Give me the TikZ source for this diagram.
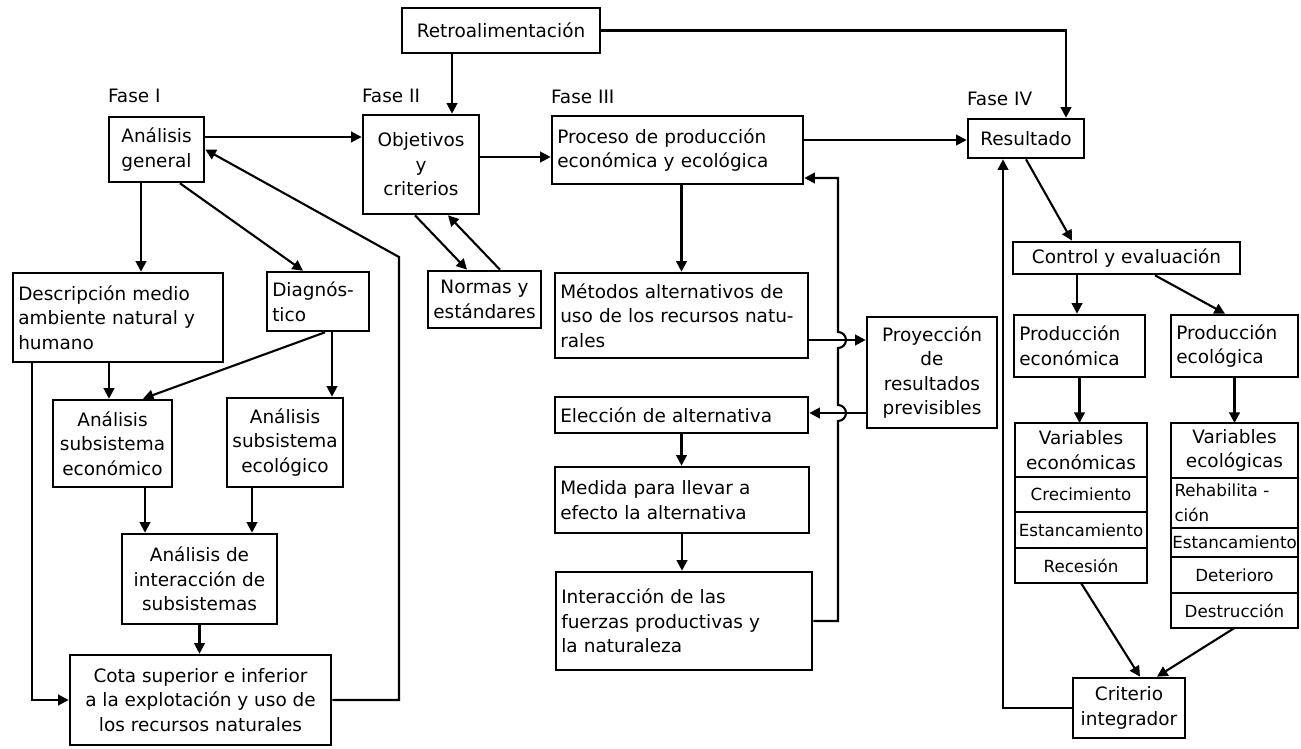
\documentclass[tikz,border=0pt]{standalone}
\usepackage{fontspec}
\setmainfont{DejaVu Sans}
\usetikzlibrary{arrows.meta,positioning}

\begin{document}
\begin{tikzpicture}[x=0.02cm,y=-0.02cm,
    font=\fontsize{10.5}{14}\selectfont,
    caja/.style={draw, line width=1.5pt, inner sep=3pt, align=center},
    cajaizq/.style={caja, align=left, text width=#1},
    fila/.style={draw, line width=1.5pt, inner xsep=0.5pt, inner ysep=1pt, outer sep=0pt, align=center,
      font=\fontsize{9.5}{14}\selectfont},
    cabecera/.style={fila, font=\fontsize{10.5}{14}\selectfont},
    fase/.style={inner sep=0pt},
    flecha/.style={line width=1.2pt, -{Triangle[length=6pt,width=6pt]}}]
\useasboundingbox (0,0) rectangle (1301,748);

\node[caja, minimum width=3.96cm, minimum height=0.9cm] (retro) at (501,30.5) {Retroalimentación};
\node[caja, minimum width=1.9cm, minimum height=1.3cm] (general) at (156.5,149.5) {Análisis\\general};
\node[caja, minimum width=2.32cm, minimum height=1.98cm] (objetivos) at (421,164.5) {Objetivos\\y\\criterios};
\node[cajaizq=4.81cm, minimum height=1.36cm] (proceso) at (677.5,150) {Proceso de producción\\económica y ecológica};
\node[caja, minimum width=2.32cm, minimum height=0.78cm] (resultado) at (1026,138.5) {Resultado};

\node[fase, above right=0.25cm and 0cm of general.north west] (faseI) {Fase I};
\node[fase, above right=0.22cm and 0cm of objetivos.north west] (faseII) {Fase II};
\node[fase, above right=0.22cm and 0cm of proceso.north west] (faseIII) {Fase III};
\node[fase, above right=0.24cm and 0cm of resultado.north west] (faseIV) {Fase IV};

\node[cajaizq=3.99cm, minimum height=1.78cm] (descripcion) at (118,317.5) {Descripción medio\\ambiente natural y\\humano};
\node[cajaizq=1.83cm, minimum height=1.18cm] (diagnostico) at (318,301.5) {Diagnós-\\tico};
\node[caja, minimum width=2.26cm, minimum height=1.14cm] (normas) at (484.5,299.5) {Normas y\\estándares};
\node[caja, minimum width=2.38cm, minimum height=1.74cm] (anecon) at (112.5,443.5) {Análisis\\subsistema\\económico};
\node[caja, minimum width=2.28cm, minimum height=1.78cm] (anecol) at (285,442.5) {Análisis\\subsistema\\ecológico};
\node[caja, minimum width=3.1cm, minimum height=1.8cm] (interac) at (199.5,579) {Análisis de\\interacción de\\subsistemas};
\node[caja, minimum width=5.22cm, minimum height=1.8cm] (cota) at (200.5,700) {Cota superior e inferior\\a la explotación y uso de\\los recursos naturales};

\node[cajaizq=4.85cm, minimum height=1.7cm] (metodos) at (681.5,315.5) {Métodos alternativos de\\uso de los recursos natu-\\rales};
\node[caja, minimum width=2.6cm, minimum height=2.22cm] (proyeccion) at (932,372.5) {Proyección\\de\\resultados\\previsibles};
\node[cajaizq=4.85cm, minimum height=0.72cm] (eleccion) at (681.5,415) {Elección de alternativa};
\node[cajaizq=4.87cm, minimum height=1.32cm] (medida) at (682,500) {Medida para llevar a\\efecto la alternativa};
\node[cajaizq=4.91cm, minimum height=1.96cm] (fuerzas) at (684,621) {Interacción de las\\fuerzas productivas y\\la naturaleza};

\node[caja, minimum width=4.54cm, minimum height=0.64cm] (control) at (1126.5,258) {Control y evaluación};
\node[cajaizq=2.41cm, minimum height=1.24cm] (econom) at (1079.5,346) {Producción\\económica};
\node[cajaizq=2.33cm, minimum height=1.24cm] (ecolog) at (1234.5,346) {Producción\\ecológica};

\node[cabecera, minimum width=2.64cm, minimum height=1.08cm] (varecon) at (1081,450) {Variables\\económicas};
\node[fila, minimum width=2.64cm, minimum height=0.7cm, below=0pt of varecon] (crec) {Crecimiento};
\node[fila, minimum width=2.64cm, minimum height=0.72cm, below=0pt of crec] (estecon) {Estancamiento};
\node[fila, minimum width=2.64cm, minimum height=0.7cm, below=0pt of estecon] (recesion) {Recesión};

\node[cabecera, minimum width=2.54cm, minimum height=1.1cm] (varecol) at (1234.5,450.5) {Variables\\ecológicas};
\node[fila, minimum width=2.54cm, minimum height=1cm, align=left, text width=2.4cm, below=0pt of varecol] (rehab) {Rehabilita -\\ción};
\node[fila, minimum width=2.54cm, minimum height=0.58cm, below=0pt of rehab] (estecol) {Estancamiento};
\node[fila, minimum width=2.54cm, minimum height=0.72cm, below=0pt of estecol] (deterioro) {Deterioro};
\node[fila, minimum width=2.54cm, minimum height=0.7cm, below=0pt of deterioro] (destruccion) {Destrucción};

\node[caja, minimum width=2.24cm, minimum height=1.2cm] (criterio) at (1129,708) {Criterio\\integrador};

\coordinate (codo) at (399,257);
\coordinate (bucle) at (838,178);
\coordinate (salto1) at ([yshift=-0.81cm]proyeccion.west -| bucle);
\coordinate (salto2) at ([yshift=-0.49cm]metodos.east -| bucle);

\draw[flecha] ([xshift=-0.98cm]retro.south) -- ([xshift=-0.98cm]retro.south |- objetivos.north);
\draw[flecha] (retro.east) -| ([xshift=0.8cm]resultado.north);
\draw[flecha] ([yshift=0.25cm]general.east) -- ([yshift=0.25cm]general.east -| objetivos.west);
\draw[flecha] ([yshift=0.15cm]objetivos.east) -- ([yshift=0.15cm]objetivos.east -| proceso.west);
\draw[flecha] ([yshift=0.2cm]proceso.east) -- ([yshift=0.2cm]proceso.east -| resultado.west);
\draw[flecha] (proceso.south -| metodos.north) -- (metodos.north);

\draw[flecha] ([xshift=-0.31cm]general.south) -- ([xshift=-0.31cm]general.south |- descripcion.north);
\draw[flecha] ([xshift=0.47cm]general.south) -- ([xshift=-0.3cm]diagnostico.north);
\draw[flecha] (cota.east) -| (codo) -- (general.east);
\draw[flecha] ([xshift=-0.12cm]objetivos.south) -- ([xshift=-0.35cm]normas.north);
\draw[flecha] ([xshift=0.31cm]normas.north) -- ([xshift=0.54cm]objetivos.south);
\draw[flecha] ([xshift=-0.18cm]descripcion.south) -- ([xshift=-0.18cm]descripcion.south |- anecon.north);
\draw[flecha] ([xshift=0.14cm]diagnostico.south) -- ([xshift=0.61cm]anecon.north);
\draw[flecha] ([xshift=0.28cm]diagnostico.south) -- ([xshift=0.28cm]diagnostico.south |- anecol.north);
\draw[flecha] ([xshift=-1.72cm]descripcion.south) |- (cota.west);
\draw[flecha] ([xshift=0.65cm]anecon.south) -- ([xshift=0.65cm]anecon.south |- interac.north);
\draw[flecha] ([xshift=-0.66cm]anecol.south) -- ([xshift=-0.66cm]anecol.south |- interac.north);
\draw[flecha] (interac.south) -- (interac.south |- cota.north);

\draw[flecha] ([yshift=-0.49cm]metodos.east) -- ([yshift=-0.49cm]metodos.east -| proyeccion.west);
\draw[flecha] ([yshift=-0.81cm]proyeccion.west) -- ([yshift=-0.81cm]proyeccion.west -| eleccion.east);
\draw[flecha] (eleccion.south) -- (eleccion.south |- medida.north);
\draw[flecha] (medida.south) -- (medida.south |- fuerzas.north);
\draw[flecha] (fuerzas.east) -| ([yshift=-0.16cm]salto1) arc[start angle=-90, end angle=90, radius=0.16cm]
    -- ([yshift=-0.16cm]salto2) arc[start angle=-90, end angle=90, radius=0.16cm]
    -- (bucle) -- (bucle -| proceso.east);

\draw[flecha] (resultado.south) -- ([xshift=-1.09cm]control.north);
\draw[flecha] ([xshift=-0.99cm]control.south) -- ([xshift=-0.99cm]control.south |- econom.north);
\draw[flecha] ([xshift=0.57cm]control.south) -- ([xshift=-0.19cm]ecolog.north);
\draw[flecha] (econom.south) -- (econom.south |- varecon.north);
\draw[flecha] (ecolog.south) -- (ecolog.south |- varecol.north);
\draw[flecha] (recesion.south) -- ([xshift=0.22cm]criterio.north);
\draw[flecha] (destruccion.south) -- ([xshift=0.56cm]criterio.north);
\draw[flecha] (criterio.west) -| ([xshift=-0.46cm]resultado.south);
\end{tikzpicture}
\end{document}
